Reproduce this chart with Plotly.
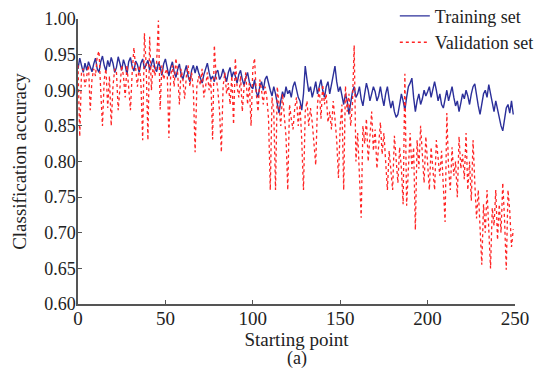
import plotly.graph_objects as go

starting_point = list(range(0, 250))

training_set = [
    0.930, 0.945, 0.935, 0.925, 0.938, 0.928, 0.940, 0.932, 0.926, 0.937,
    0.945, 0.930, 0.925, 0.940, 0.948, 0.935, 0.927, 0.942, 0.933, 0.946,
    0.938, 0.925, 0.932, 0.947, 0.936, 0.928, 0.943, 0.935, 0.922, 0.940,
    0.946, 0.933, 0.927, 0.941, 0.936, 0.925, 0.938, 0.944, 0.930, 0.935,
    0.942, 0.928, 0.936, 0.945, 0.931, 0.926, 0.939, 0.933, 0.921, 0.937,
    0.944, 0.930, 0.920, 0.932, 0.940, 0.926, 0.918, 0.929, 0.937, 0.922,
    0.915, 0.926, 0.935, 0.920, 0.912, 0.928, 0.935, 0.924, 0.934, 0.925,
    0.918, 0.910, 0.922, 0.930, 0.938, 0.925, 0.915, 0.920, 0.912, 0.925,
    0.928, 0.915, 0.920, 0.930, 0.922, 0.912, 0.925, 0.932, 0.918, 0.926,
    0.920, 0.910, 0.922, 0.928, 0.915, 0.907, 0.918, 0.925, 0.912, 0.905,
    0.902, 0.915, 0.898, 0.890, 0.905, 0.912, 0.900, 0.915, 0.920, 0.908,
    0.900, 0.892, 0.905, 0.895, 0.880, 0.868, 0.885, 0.898, 0.890, 0.905,
    0.895, 0.900, 0.890, 0.905, 0.912, 0.898, 0.890, 0.885, 0.872, 0.895,
    0.934, 0.915, 0.898, 0.905, 0.890, 0.900, 0.912, 0.895, 0.905, 0.915,
    0.900, 0.890, 0.905, 0.912, 0.895, 0.910, 0.920, 0.934, 0.912, 0.898,
    0.905, 0.892, 0.880, 0.895, 0.885, 0.866, 0.882, 0.898, 0.905, 0.890,
    0.895, 0.905, 0.888, 0.878, 0.895, 0.910, 0.900, 0.885, 0.895, 0.905,
    0.898, 0.885, 0.892, 0.905, 0.890, 0.878, 0.895, 0.905, 0.888, 0.875,
    0.885, 0.870, 0.862, 0.866, 0.880, 0.895, 0.885, 0.872, 0.890, 0.905,
    0.910, 0.917, 0.890, 0.870, 0.885, 0.895, 0.880, 0.888, 0.900, 0.892,
    0.898, 0.905, 0.890, 0.902, 0.912, 0.900, 0.885, 0.895, 0.880, 0.875,
    0.890, 0.900, 0.885, 0.895, 0.905, 0.890, 0.878, 0.885, 0.870, 0.882,
    0.895, 0.888, 0.900, 0.892, 0.880, 0.895, 0.905, 0.909, 0.890, 0.878,
    0.866, 0.880, 0.895, 0.900, 0.890, 0.908, 0.895, 0.880, 0.870, 0.885,
    0.872, 0.860, 0.850, 0.843, 0.858, 0.875, 0.880, 0.868, 0.885, 0.866,
]

validation_set = [
    0.935, 0.835, 0.925, 0.930, 0.905, 0.920, 0.935, 0.872, 0.915, 0.930,
    0.920, 0.948, 0.955, 0.900, 0.850, 0.915, 0.930, 0.875, 0.920, 0.850,
    0.905, 0.930, 0.925, 0.872, 0.910, 0.935, 0.920, 0.890, 0.935, 0.900,
    0.872, 0.925, 0.960, 0.930, 0.905, 0.935, 0.910, 0.830, 0.980, 0.935,
    0.830, 0.975, 0.900, 0.935, 0.920, 0.940, 0.998, 0.873, 0.935, 0.915,
    0.925, 0.930, 0.833, 0.920, 0.935, 0.905, 0.945, 0.925, 0.880, 0.930,
    0.915, 0.888, 0.920, 0.935, 0.905, 0.925, 0.900, 0.813, 0.905, 0.920,
    0.907, 0.930, 0.890, 0.905, 0.925, 0.900, 0.915, 0.831, 0.963, 0.920,
    0.900, 0.870, 0.813, 0.905, 0.925, 0.895, 0.910, 0.880, 0.920, 0.852,
    0.945, 0.905, 0.890, 0.920, 0.870, 0.905, 0.925, 0.880, 0.910, 0.850,
    0.930, 0.945, 0.895, 0.870, 0.915, 0.900, 0.880, 0.905, 0.890, 0.860,
    0.760, 0.890, 0.870, 0.760, 0.905, 0.880, 0.850, 0.895, 0.870, 0.835,
    0.760, 0.880, 0.860, 0.845, 0.875, 0.890, 0.850, 0.880, 0.830, 0.760,
    0.870, 0.885, 0.850, 0.875, 0.855, 0.830, 0.795, 0.880, 0.905, 0.860,
    0.908, 0.880, 0.895, 0.855, 0.870, 0.845, 0.885, 0.860, 0.830, 0.777,
    0.850, 0.880, 0.760, 0.906, 0.870, 0.895, 0.850, 0.880, 0.963, 0.800,
    0.840, 0.780, 0.721, 0.850, 0.825, 0.860, 0.800, 0.835, 0.870, 0.815,
    0.845, 0.790, 0.830, 0.855, 0.810, 0.840, 0.800, 0.760, 0.815, 0.790,
    0.760, 0.836, 0.800, 0.770, 0.820, 0.790, 0.740, 0.923, 0.738, 0.800,
    0.840, 0.790, 0.820, 0.704, 0.830, 0.790, 0.850, 0.810, 0.770, 0.835,
    0.800, 0.760, 0.820, 0.790, 0.760, 0.830, 0.800, 0.780, 0.815, 0.770,
    0.715, 0.868, 0.790, 0.760, 0.820, 0.780, 0.800, 0.750, 0.835, 0.790,
    0.810, 0.775, 0.840, 0.760, 0.800, 0.745, 0.830, 0.770, 0.720, 0.760,
    0.700, 0.655, 0.740, 0.700, 0.760, 0.690, 0.650, 0.735, 0.710, 0.760,
    0.690, 0.740, 0.700, 0.770, 0.720, 0.648, 0.760, 0.730, 0.680, 0.705,
]

x_ticks = [0, 50, 100, 150, 200, 250]
y_ticks = [0.60, 0.65, 0.70, 0.75, 0.80, 0.85, 0.90, 0.95, 1.00]

FONT = "Liberation Serif"
TXT = "#222222"

fig = go.Figure()
fig.add_trace(go.Scatter(
    x=starting_point, y=training_set, mode="lines", name="Training set",
    line=dict(color="#2b2f9a", width=1.4),
))
fig.add_trace(go.Scatter(
    x=starting_point, y=validation_set, mode="lines", name="Validation set",
    line=dict(color="#ff2424", width=1.3, dash="dot"),
))

fig.update_layout(
    width=539, height=371,
    margin=dict(l=70, r=32, t=11, b=75, autoexpand=False),
    paper_bgcolor="white", plot_bgcolor="white",
    font=dict(family=FONT, color=TXT, size=19),
    showlegend=True,
    legend=dict(
        x=0.725, y=1.075, xanchor="left", yanchor="top",
        bgcolor="rgba(0,0,0,0)", borderwidth=0,
        font=dict(family=FONT, size=18, color=TXT),
        tracegroupgap=0, itemwidth=30,
    ),
    xaxis=dict(
        range=[0, 250], tickvals=x_ticks, ticktext=[str(v) for v in x_ticks],
        showgrid=False, zeroline=False, showline=True, linecolor="#555555", linewidth=1.5,
        ticks="inside", ticklen=4, tickcolor="#555555", tickwidth=1,
        tickfont=dict(family=FONT, size=19, color=TXT), automargin=False,
        ticklabelstandoff=-4, ticklabeloverflow="allow",
        title=dict(text="Starting point", font=dict(family=FONT, size=19, color=TXT), standoff=4),
    ),
    yaxis=dict(
        range=[0.60, 1.00], tickvals=y_ticks, ticktext=["%.2f" % v for v in y_ticks],
        showgrid=False, zeroline=False, showline=True, linecolor="#555555", linewidth=1.5,
        ticks="inside", ticklen=4, tickcolor="#555555", tickwidth=1,
        tickfont=dict(family=FONT, size=18, color=TXT), automargin=False,
        ticklabelstandoff=-3, ticklabeloverflow="allow",
        title=dict(text="Classification accuracy", font=dict(family=FONT, size=19, color=TXT), standoff=13),
    ),
    annotations=[dict(
        text="(a)", xref="paper", yref="paper", x=0.5, y=-0.19, xanchor="center", yanchor="middle",
        showarrow=False, font=dict(family=FONT, size=18, color=TXT),
    )],
)

fig.write_html("out.html")
